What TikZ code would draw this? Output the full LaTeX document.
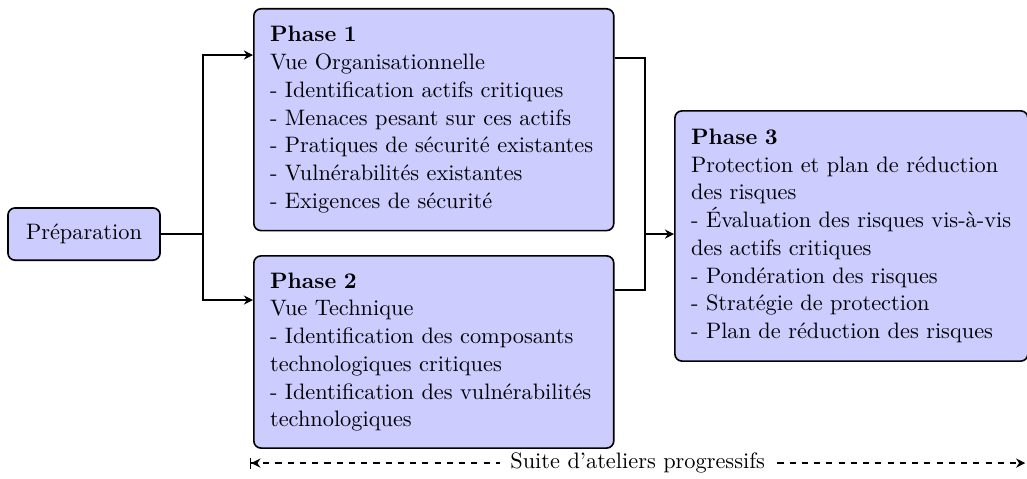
\documentclass[tikz,border=0pt]{standalone}
\usepackage{fontspec}
\usetikzlibrary{arrows.meta}
\begin{document}
\begin{tikzpicture}[
    font={\fontsize{10.95pt}{13.6pt}\selectfont},
    box/.style={draw=black, thick, fill=blue!20, rounded corners=3.5pt},
    phase/.style={box, align=left, anchor=north west, inner xsep=0.28cm, inner ysep=8pt},
    link/.style={semithick, -{Stealth[length=4.5pt,width=4.5pt]}}]
  \useasboundingbox (0,0) rectangle (17.69,8.235);
  % boxes
  \node[box, minimum width=2.62cm, minimum height=0.9cm] (prep) at (1.447,4.203) {Préparation};
  \node[phase, text width=5.64cm, minimum height=3.82cm] (p1) at (4.358,8.097)
    {\textbf{Phase 1}\\
     Vue Organisationnelle\\
     - Identification actifs critiques\\
     - Menaces pesant sur ces actifs\\
     - Pratiques de sécurité existantes\\
     - Vulnérabilités existantes\\
     - Exigences de sécurité};
  \node[phase, text width=5.64cm, minimum height=3.31cm] (p2) at (4.358,3.841)
    {\textbf{Phase 2}\\
     Vue Technique\\
     - Identification des composants\\
     technologiques critiques\\
     - Identification des vulnérabilités\\
     technologiques};
  \node[phase, text width=5.52cm, minimum height=4.31cm] (p3) at (11.611,6.339)
    {\textbf{Phase 3}\\
     Protection et plan de réduction\\
     des risques\\
     \mbox{- Évaluation des risques vis-à-vis}\\
     des actifs critiques\\
     - Pondération des risques\\
     - Stratégie de protection\\
     - Plan de réduction des risques};
  % connectors
  \coordinate (jl) at (3.497,4.203);
  \coordinate (jr) at (11.111,4.203);
  \draw[semithick] (prep.east) -- (jl);
  \draw[link] (jl) |- ([yshift=-0.81cm]p1.north west);
  \draw[link] (jl) |- ([yshift=-0.775cm]p2.north west);
  \draw[semithick] ([yshift=-0.861cm]p1.north east) -| (jr);
  \draw[semithick] ([yshift=-0.603cm]p2.north east) -| (jr);
  \draw[link] (jr) -- (jr -| p3.west);
  % ateliers
  \coordinate (s) at (4.307,0.258);
  \coordinate (e) at (17.66,0.258);
  \draw[semithick, dashed, {Bar[]Stealth[length=4.5pt,width=4.5pt]}-{Stealth[length=4.5pt,width=4.5pt]}]
    (s) -- node[fill=white, inner xsep=5pt, inner ysep=2pt] {Suite d’ateliers progressifs} (e);
\end{tikzpicture}
\end{document}
